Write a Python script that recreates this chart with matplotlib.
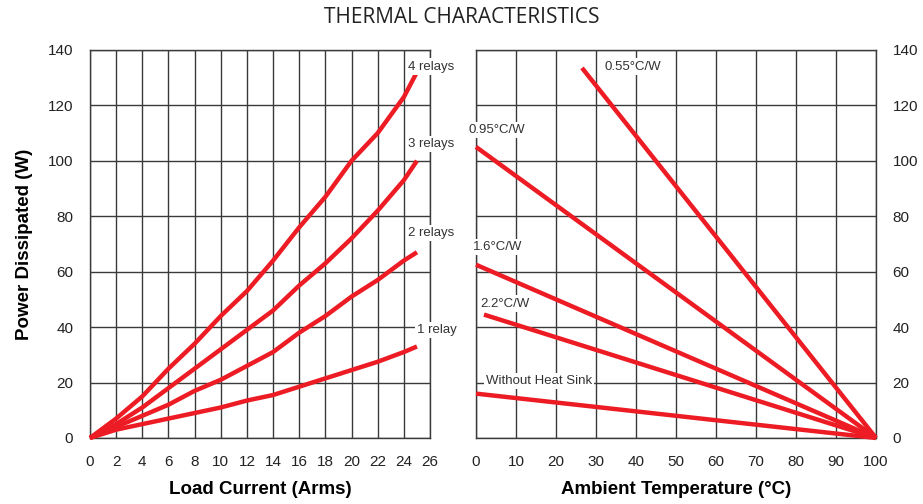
# -*- coding: utf-8 -*-
"""Thermal characteristics - power dissipated vs load current / ambient temperature"""

import matplotlib
matplotlib.use("Agg")
import matplotlib.pyplot as plt

plt.rcParams['font.family'] = ['Liberation Sans', 'DejaVu Sans']

# Left panel: power vs load current, one curve per relay count
CURRENT = [0, 2, 4, 6, 8, 10, 12, 14, 16, 18, 20, 22, 24, 25]
RELAYS_4 = [0, 7, 15, 25, 34, 44, 53, 64, 76, 87, 100, 110, 123, 132]
RELAYS_3 = [0, 5, 11, 18, 25, 32, 39, 46, 55, 63, 72, 82, 93, 100]
RELAYS_2 = [0, 4, 8, 12, 17, 21, 26, 31, 38, 44, 51, 57, 64, 67]
RELAYS_1 = [0, 3, 5, 7, 9, 11, 13.5, 15.5, 18.5, 21.5, 24.5, 27.5, 31, 33]
RELAY_LABELS = ["4 relays", "3 relays", "2 relays", "1 relay"]

# Right panel: straight derating lines per heat sink (start, end points)
SINK_LABELS = ["0.55°C/W", "0.95°C/W", "1.6°C/W", "2.2°C/W", "Without Heat Sink"]
SINK_TEMP = [[26.5, 100], [0, 100], [0, 100], [2, 100], [0, 100]]
SINK_POWER = [[133.5, 0], [105, 0], [62.5, 0], [44.5, 0], [16, 0]]

RED = '#ED1C24'
GRID = '#3a3a3a'
LW = 3.2


def style_axis(ax):
    ax.grid(True, color=GRID, linewidth=1.0)
    ax.set_axisbelow(True)
    for sp in ax.spines.values():
        sp.set_color(GRID)
        sp.set_linewidth(1.0)
    ax.tick_params(length=0, labelsize=11, colors='#222222', pad=12)


def label(ax, x, y, text, ha='center'):
    ax.text(x, y, text, ha=ha, va='center', fontsize=9.5, color='#333333',
            bbox=dict(facecolor='white', edgecolor='none', pad=1.5),
            clip_on=False, zorder=5)


fig = plt.figure(figsize=(9.23, 5.04), dpi=100)
ax1 = fig.add_axes([0.0975, 0.131, 0.3684, 0.770])
ax2 = fig.add_axes([0.5157, 0.131, 0.4334, 0.770])

# left panel
style_axis(ax1)
ax1.set_xlim(0, 26)
ax1.set_ylim(0, 140)
ax1.set_xticks(range(0, 27, 2))
ax1.set_yticks(range(0, 141, 20))
for ys in [RELAYS_4, RELAYS_3, RELAYS_2, RELAYS_1]:
    ax1.plot(CURRENT, ys, color=RED, lw=LW, solid_capstyle='butt',
             clip_on=False, zorder=3)
label(ax1, 26.1, 134, RELAY_LABELS[0])
label(ax1, 26.1, 106, RELAY_LABELS[1])
label(ax1, 26.1, 74, RELAY_LABELS[2])
label(ax1, 26.5, 39, RELAY_LABELS[3])
ax1.set_xlabel("Load Current (Arms)", fontsize=13.5, fontweight='bold', labelpad=9)
ax1.set_ylabel("Power Dissipated (W)", fontsize=13.5, fontweight='bold', labelpad=11)

# right panel
style_axis(ax2)
ax2.set_xlim(0, 100)
ax2.set_ylim(0, 140)
ax2.set_xticks(range(0, 101, 10))
ax2.set_yticks(range(0, 141, 20))
ax2.yaxis.tick_right()
for xs, ys in zip(SINK_TEMP, SINK_POWER):
    ax2.plot(xs, ys, color=RED, lw=LW, solid_capstyle='butt',
             clip_on=False, zorder=3)
label(ax2, 32, 134, SINK_LABELS[0], ha='left')
label(ax2, -1.8, 111, SINK_LABELS[1], ha='left')
label(ax2, -0.8, 69, SINK_LABELS[2], ha='left')
label(ax2, 1, 48.5, SINK_LABELS[3], ha='left')
label(ax2, 2.5, 20.5, SINK_LABELS[4], ha='left')
ax2.set_xlabel("Ambient Temperature (°C)", fontsize=13.5, fontweight='bold', labelpad=9)

fig.text(0.5, 0.965, "THERMAL CHARACTERISTICS", ha='center', va='center',
         fontsize=15, color='#222222', family=['Open Sans', 'DejaVu Sans'])

fig.savefig('out.png', dpi=100)
